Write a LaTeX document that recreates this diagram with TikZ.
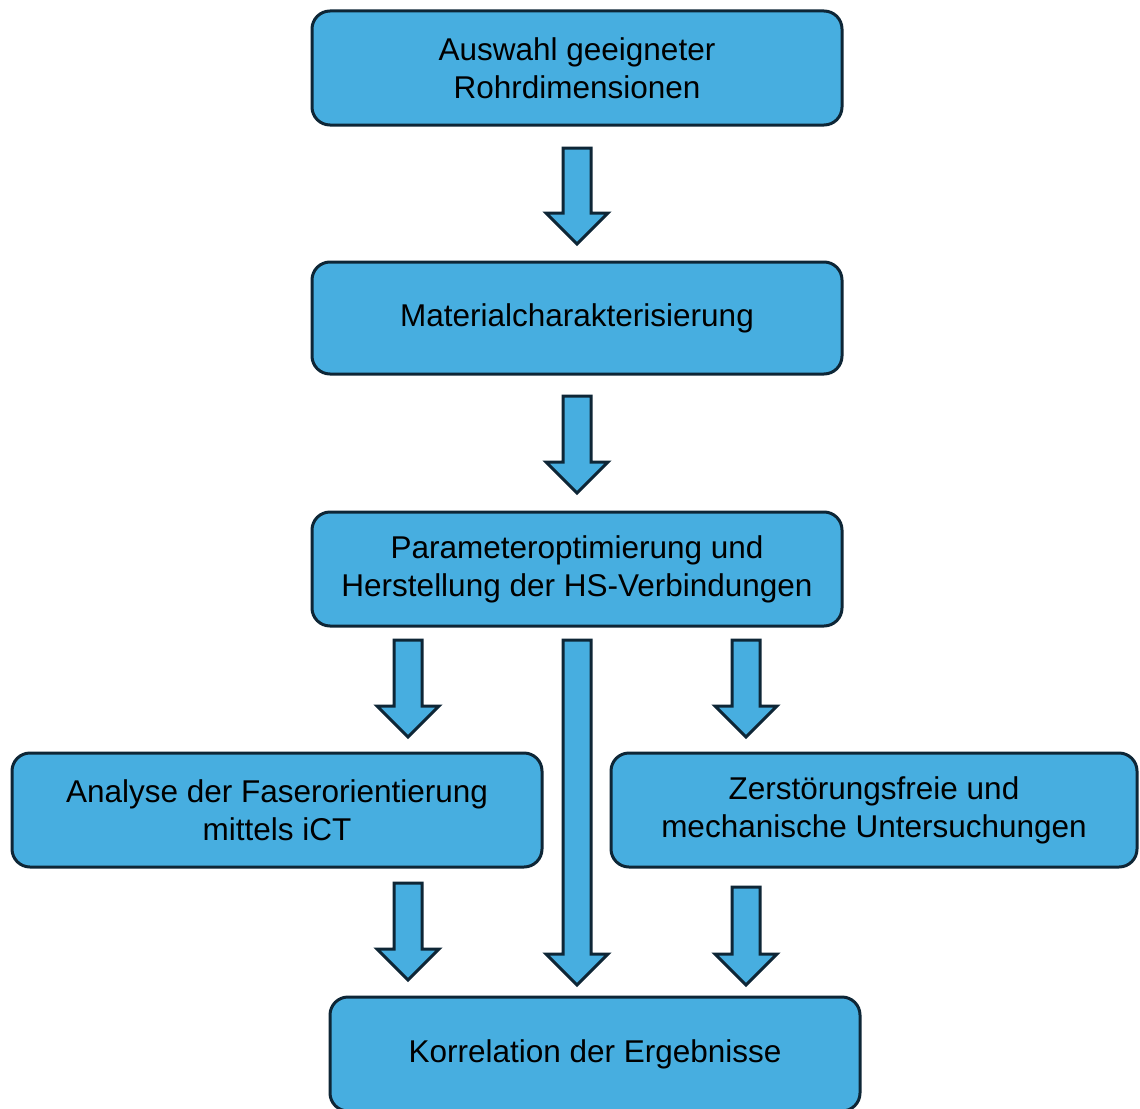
\documentclass[tikz,border=0pt]{standalone}
\usepackage{fontspec}
\setmainfont{Liberation Sans}
\definecolor{boxfill}{RGB}{71,174,224}
\definecolor{boxline}{RGB}{14,38,54}
\newcommand{\blockarrow}[4]{% name, x, ytop, ytip
  \draw[arrowshape] (#2-14,#3) -- (#2+14,#3) -- (#2+14,#4-31) -- (#2+31,#4-31) -- (#2,#4) -- (#2-31,#4-31) -- (#2-14,#4-31) -- cycle;
  \coordinate (#1) at (#2,#4);
}
\begin{document}
\begin{tikzpicture}[x=1pt,y=-1pt,
  stepbox/.style={draw=boxline, fill=boxfill, line width=3pt, rounded corners=18pt,
    minimum width=530pt, minimum height=114pt, align=center, inner sep=0pt,
    font=\fontsize{31.5}{38}\selectfont, text=black},
  arrowshape/.style={draw=boxline, fill=boxfill, line width=3pt, line join=miter}]
\useasboundingbox (0,0) rectangle (1140,1108);
\clip (0,0) rectangle (1140,1108);
\fill[white] (0,0) rectangle (1140,1108);
\node[stepbox] (a) at (577,68) {Auswahl geeigneter\\Rohrdimensionen};
\node[stepbox, minimum height=112pt] (b) at (577,318) {Materialcharakterisierung};
\node[stepbox] (c) at (577,569) {Parameteroptimierung und\\Herstellung der HS-Verbindungen};
\node[stepbox] (d) at (277,810) {Analyse der Faserorientierung\\mittels iCT};
\node[stepbox, minimum width=526pt] (e) at (874,810) {Zerstörungsfreie und\\mechanische Untersuchungen};
\node[stepbox] (f) at (595,1054) {Korrelation der Ergebnisse};
\blockarrow{ab}{577}{148}{244}
\blockarrow{bc}{577}{396}{493}
\blockarrow{cd}{408}{640}{737}
\blockarrow{cf}{577}{640}{985}
\blockarrow{ce}{746}{640}{737}
\blockarrow{df}{408}{883}{980}
\blockarrow{ef}{746}{887}{985}
\end{tikzpicture}
\end{document}
